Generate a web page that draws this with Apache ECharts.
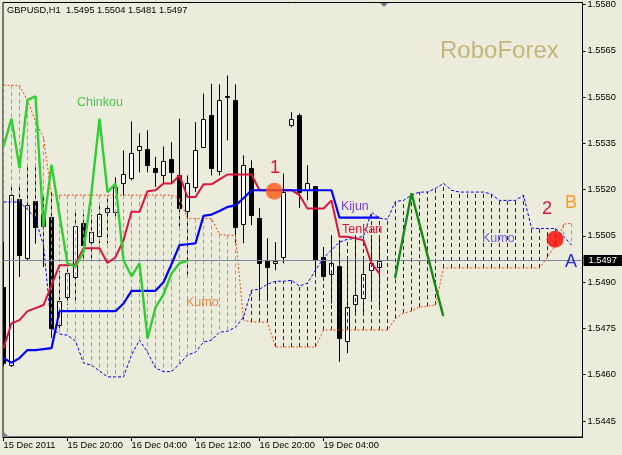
<!DOCTYPE html>
<html><head><meta charset="utf-8">
<script src="https://cdn.jsdelivr.net/npm/echarts@6/dist/echarts.min.js"></script>
<style>html,body{margin:0;padding:0;background:#ECECDC}#c{width:622px;height:455px}</style>
</head><body><div id="c"></div>
<script>
// ---- data (GBPUSD H1, bar index k, 8 px per bar) ----
const xTickBars = [0, 8, 16, 24, 32, 40];
const xTickLabels = ['15 Dec 2011', '15 Dec 20:00', '16 Dec 04:00', '16 Dec 12:00', '16 Dec 20:00', '19 Dec 04:00'];
const yTicks = [1.5445, 1.5460, 1.5475, 1.5490, 1.5505, 1.5520, 1.5535, 1.5550, 1.5565, 1.5580];

const opens = [
 1.54884,1.54631,1.55171,1.54979,1.55162,1.55120,1.55111,1.54761,
 1.54851,1.54917,1.55091,1.55030,1.55050,1.55128,1.55128,1.55221,
 1.55239,1.55330,1.55331,1.55271,1.55249,1.55300,1.55249,1.55130,
 1.55209,1.55338,1.55441,1.55259,1.55500,1.55491,1.55090,1.55269,
 1.55109,1.54971,1.54961,1.54980,1.55411,1.55441,1.55200,1.55211,
 1.54982,1.54928,1.54952,1.54709,1.54828,1.54850,1.54939,1.54950];
const highs = [
 1.55030,1.55208,1.55209,1.55281,1.55281,1.55182,1.55192,1.54936,
 1.54945,1.55128,1.55120,1.55117,1.55149,1.55182,1.55240,1.55327,
 1.55421,1.55382,1.55392,1.55306,1.55340,1.55354,1.55430,1.55246,
 1.55419,1.55511,1.55543,1.55541,1.55570,1.55541,1.55311,1.55295,
 1.55140,1.55042,1.55030,1.55252,1.55451,1.55447,1.55279,1.55211,
 1.55014,1.55052,1.55036,1.54971,1.55052,1.54971,1.55052,1.55040];
const lows = [
 1.54628,1.54625,1.54917,1.54971,1.55025,1.54949,1.54719,1.54751,
 1.54826,1.54832,1.54965,1.54971,1.55026,1.55026,1.55110,1.55182,
 1.55230,1.55256,1.55256,1.55209,1.55220,1.55221,1.55068,1.54917,
 1.55192,1.55337,1.55246,1.55246,1.55360,1.55020,1.55026,1.55085,
 1.54842,1.54842,1.54939,1.54961,1.55402,1.55140,1.55165,1.54929,
 1.54906,1.54831,1.54642,1.54670,1.54793,1.54800,1.54842,1.54810];
const closes = [
 1.54638,1.55182,1.54987,1.55149,1.55079,1.55081,1.54750,1.54839,
 1.54929,1.55082,1.55020,1.55062,1.55120,1.55139,1.55209,1.55250,
 1.55320,1.55340,1.55281,1.55257,1.55292,1.55257,1.55139,1.55220,
 1.55330,1.55430,1.55270,1.55491,1.55502,1.55079,1.55281,1.55117,
 1.54961,1.54950,1.54969,1.55192,1.55430,1.55192,1.55220,1.54971,
 1.54919,1.54961,1.54718,1.54818,1.54860,1.54928,1.54961,1.54970];

const tenkan = [
 1.54686,1.54767,1.54777,1.54806,1.54816,1.54826,1.54890,1.54955,
 1.54955,1.54958,1.55010,1.55010,1.55010,1.54962,1.54981,1.55036,
 1.55128,1.55128,1.55195,1.55198,1.55220,1.55220,1.55246,1.55176,
 1.55176,1.55217,1.55217,1.55233,1.55249,1.55249,1.55249,1.55249,
 1.55198,1.55198,1.55198,1.55198,1.55198,1.55182,1.55139,1.55139,
 1.55139,1.55165,1.55047,1.55047,1.55042,1.55036,1.54961,1.54928];
const kijun = [
 1.54654,1.54639,1.54654,1.54680,1.54680,1.54683,1.54686,1.54806,
 1.54806,1.54806,1.54806,1.54806,1.54806,1.54806,1.54806,1.54831,
 1.54872,1.54872,1.54872,1.54872,1.54900,1.54958,1.55020,1.55023,
 1.55026,1.55115,1.55119,1.55131,1.55144,1.55149,1.55172,1.55198,
 1.55198,1.55198,1.55198,1.55198,1.55198,1.55198,1.55198,1.55198,
 1.55198,1.55198,1.55109,1.55109,1.55109,1.55109,1.55109,1.55109];
const chinkou = [
 1.55340,1.55430,1.55270,1.55491,1.55502,1.55079,1.55281,1.55117,
 1.54961,1.54950,1.54998,1.55192,1.55430,1.55192,1.55220,1.54971,
 1.54919,1.54961,1.54718,1.54818,1.54860,1.54928,1.54961,1.54970];
const spanOrange = [
 1.55538,1.55538,1.55538,1.55489,1.55421,1.55369,1.55182,1.55182,
 1.55182,1.55182,1.55182,1.55182,1.55182,1.55182,1.55182,1.55182,
 1.55182,1.55182,1.55182,1.55182,1.55182,1.55182,1.55172,1.55106,
 1.55106,1.55106,1.55106,1.55055,1.55052,1.55052,1.54777,1.54771,
 1.54771,1.54770,1.54690,1.54690,1.54690,1.54690,1.54690,1.54690,
 1.54745,1.54745,1.54745,1.54745,1.54745,1.54745,1.54745,1.54745,
 1.54745,1.54783,1.54800,1.54806,1.54819,1.54822,1.54826,1.54946,
 1.54946,1.54946,1.54946,1.54946,1.54946,1.54946,1.54946,1.54946,
 1.54946,1.54946,1.54946,1.54946,1.54981,1.55020,1.55088,1.55091];
const spanBlue = [
 1.55160,1.55160,1.55160,1.55136,1.55104,1.55020,1.54751,1.54732,
 1.54728,1.54709,1.54638,1.54631,1.54612,1.54593,1.54593,1.54593,
 1.54664,1.54712,1.54673,1.54622,1.54610,1.54610,1.54635,1.54664,
 1.54673,1.54706,1.54712,1.54738,1.54741,1.54754,1.54787,1.54874,
 1.54877,1.54894,1.54903,1.54903,1.54906,1.54887,1.54897,1.54939,
 1.54978,1.55004,1.55030,1.55039,1.55042,1.55049,1.55127,1.55107,
 1.55104,1.55162,1.55165,1.55182,1.55192,1.55192,1.55204,1.55220,
 1.55198,1.55192,1.55192,1.55192,1.55192,1.55185,1.55165,1.55165,
 1.55165,1.55182,1.55075,1.55074,1.55074,1.55074,1.55049,1.55020];

// hand-drawn annotations (bar index, price)
const zigBars = [48.94, 51.0, 54.97];
const zigPrices = [1.54913, 1.55188, 1.54790];
const dotBars = [33.85, 68.94];
const dotPrices = [1.55195, 1.55039];
const currentPrice = 1.5497;
const headerText = 'GBPUSD,H1  1.5495 1.5504 1.5481 1.5497';

// ---- chart ----
const FONT = 'Liberation Sans';
const X_MIN = -0.0625, X_MAX = 72.375;
const Y_MIN = 1.543982, Y_MAX = 1.558065;
const HATCH_OR = '#F0805A', HATCH_BL = '#1010F0';

const candleData = opens.map((o, k) => [k, o, highs[k], lows[k], closes[k]]);
const hatchData = spanOrange.map((a, k) => [k, a, spanBlue[k]]);
const pairs = arr => arr.map((v, k) => [k, v]);

function candleItem(params, api) {
  const k = api.value(0), o = api.value(1), h = api.value(2), l = api.value(3), c = api.value(4);
  const po = api.coord([k, o]), pc = api.coord([k, c]), ph = api.coord([k, h]), pl = api.coord([k, l]);
  const x = Math.round(po[0] - 0.5) + 0.5;
  const yT = Math.round(Math.min(po[1], pc[1])) + 0.5;
  let yB = Math.round(Math.max(po[1], pc[1])) + 0.5;
  if (yB - yT < 1) yB = yT + 1;
  const bull = c >= o;
  return {
    type: 'group',
    children: [
      { type: 'line', shape: { x1: x, y1: ph[1], x2: x, y2: pl[1] }, style: { stroke: '#000', lineWidth: 1 } },
      { type: 'rect', shape: { x: x - 2, y: yT, width: 4, height: yB - yT }, style: { fill: bull ? '#fff' : '#000', stroke: '#000', lineWidth: 1 } }
    ]
  };
}
function hatchItem(params, api) {
  const k = api.value(0), a = api.value(1), b = api.value(2);
  const pa = api.coord([k, a]), pb = api.coord([k, b]);
  const x = Math.round(pa[0] - 0.5) + 0.5;
  return { type: 'line', shape: { x1: x, y1: pa[1], x2: x, y2: pb[1] },
    style: { stroke: a >= b ? HATCH_OR : HATCH_BL, lineWidth: 1, lineDash: [4, 3] } };
}
const lineS = (data, color, width, type, z) => ({
  type: 'line', data, z, silent: true, showSymbol: false, symbol: 'none', clip: true,
  lineStyle: { color, width, type }, emphasis: { disabled: true }
});
const txt = (text, x, y, size, color, align) => ({
  type: 'text', z: 100, silent: true,
  style: { text, x, y, fill: color, fontSize: size, fontFamily: FONT, align: align || 'left', verticalAlign: 'middle' }
});

const chart = echarts.init(document.getElementById('c'));
chart.setOption({
  animation: false,
  backgroundColor: '#ECECDC',
  grid: { left: 3, top: 2, right: 39.5, bottom: 18, show: true, borderColor: '#000', borderWidth: 1, backgroundColor: 'transparent' },
  xAxis: {
    type: 'value', min: X_MIN, max: X_MAX,
    axisLine: { show: true, onZero: false, lineStyle: { color: '#000' } },
    splitLine: { show: false },
    axisTick: { show: true, customValues: xTickBars, length: 4, lineStyle: { color: '#000' } },
    axisLabel: { customValues: xTickBars, formatter: v => xTickLabels[xTickBars.indexOf(Math.round(v))] || '',
      align: 'left', margin: 4, color: '#000', fontSize: 9.3, fontFamily: FONT }
  },
  yAxis: {
    type: 'value', position: 'right', min: Y_MIN, max: Y_MAX,
    axisLine: { show: true, onZero: false, lineStyle: { color: '#000' } },
    splitLine: { show: false },
    axisTick: { show: true, customValues: yTicks, length: 3, lineStyle: { color: '#000' } },
    axisLabel: { customValues: yTicks, formatter: v => v.toFixed(4), margin: 5, color: '#000', fontSize: 9.3, fontFamily: FONT }
  },
  series: [
    { type: 'line', z: 1, silent: true, showSymbol: false, symbol: 'none', data: [[X_MIN, currentPrice]],
      markLine: { silent: true, symbol: 'none', animation: false, precision: 5,
        lineStyle: { color: '#778899', width: 1, type: 'solid' },
        label: { show: true, position: 'end', distance: 1, formatter: currentPrice.toFixed(4),
          backgroundColor: '#000', color: '#fff', padding: [1, 5, 1, 5], fontSize: 9.3, fontFamily: FONT },
        data: [{ yAxis: currentPrice }] } },
    { type: 'custom', z: 2, silent: true, clip: true, renderItem: candleItem, data: candleData, encode: { x: 0, y: [1, 2, 3, 4] } },
    { type: 'custom', z: 3, silent: true, clip: true, renderItem: hatchItem, data: hatchData, encode: { x: 0, y: [1, 2] } },
    lineS(pairs(spanOrange), '#FF4500', 1, [2, 2], 4),
    lineS(pairs(spanBlue), '#0000FF', 1, [3, 2], 4),
    lineS(pairs(tenkan), '#DC143C', 2, 'solid', 5),
    lineS(pairs(kijun), '#0000FF', 2.2, 'solid', 6),
    lineS(pairs(chinkou), '#32CD32', 2.4, 'solid', 7),
    lineS(zigBars.map((x, i) => [x, zigPrices[i]]), '#168C16', 2.4, 'solid', 8),
    { type: 'scatter', z: 9, silent: true, symbolSize: 17,
      data: [
        { value: [dotBars[0], dotPrices[0]], itemStyle: { color: '#FF5A14' } },
        { value: [dotBars[1], dotPrices[1]], itemStyle: { color: '#FF0000' } }
      ] }
  ],
  graphic: [
    txt(headerText, 7, 10.8, 9.3, '#000'),
    txt('RoboForex', 440, 51, 24, '#C4B679'),
    txt('Chinkou', 77, 102.7, 12.5, '#4CC84C'),
    txt('Kijun', 341, 206.3, 12.5, '#7B3FE4'),
    txt('Tenkan', 342, 229.6, 12.5, '#DC143C'),
    txt('Kumo', 186, 302.4, 12.5, '#E48A50'),
    txt('Kumo', 482, 238.4, 12.5, '#7060E0'),
    txt('1', 275, 168.5, 18, '#DC143C', 'center'),
    txt('2', 547, 209.5, 18, '#DC143C', 'center'),
    txt('B', 571, 203.5, 18, '#FF9A20', 'center'),
    txt('A', 571, 262.5, 18, '#2B2BD9', 'center'),
    { type: 'polygon', z: 100, silent: true, shape: { points: [[380, 3], [388, 3], [384, 7]] }, style: { fill: '#6D7B8A' } },
    { type: 'polygon', z: 100, silent: true, shape: { points: [[3, 431], [3, 437], [9, 437]] }, style: { fill: '#7B8691' } }
  ]
});
</script>
</body></html>
